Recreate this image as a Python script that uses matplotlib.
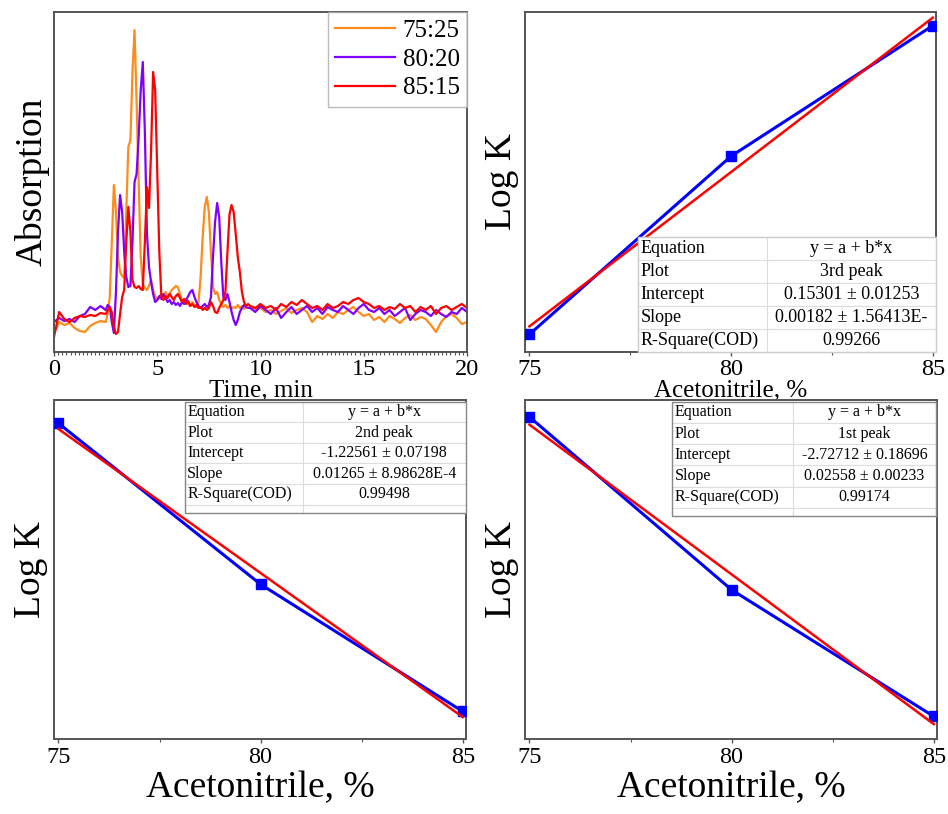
import numpy as np
import matplotlib
matplotlib.use("Agg")
import matplotlib.pyplot as plt
from matplotlib.patches import Rectangle
from matplotlib.ticker import MultipleLocator

plt.rcParams['font.family'] = ['Liberation Serif', 'DejaVu Serif']

# ---------------- Chromatogram data (absorption, arbitrary units) ----------------
time_min = np.round(np.concatenate([
    np.arange(0.0, 2.5, 0.25),
    np.arange(2.5, 9.45, 0.1),
    np.arange(9.5, 20.01, 0.25),
]), 2)

abs_75_25 = [
    19, 30, 27, 29, 24, 21, 20, 26, 29, 31,
    30, 38, 55, 110, 167, 140, 95, 80, 76, 74,
    140, 205, 212, 280, 322, 250, 170, 95, 68, 64,
    62, 66, 72, 62, 56, 52, 54, 58, 55, 60,
    56, 58, 62, 64, 66, 65, 58, 52, 50, 53,
    48, 46, 50, 47, 45, 50, 75, 115, 145, 155,
    140, 100, 65, 58, 60, 52, 48, 45, 47, 44,
    46, 43, 45, 44, 47, 44, 46, 43, 45, 44,
    45, 43, 44, 40, 42, 38, 41, 44, 39, 42,
    44, 40, 30, 36, 33, 38, 34, 40, 38, 42,
    45, 40, 36, 38, 32, 35, 30, 36, 33, 29,
    34, 37, 32, 35, 33, 27, 20, 30, 36, 38,
    34, 28, 30,
]
abs_80_20 = [
    30, 34, 31, 33, 30, 36, 38, 45, 42, 46,
    42, 47, 45, 30, 19, 60, 120, 157, 140, 100,
    75, 65, 66, 110, 170, 178, 215, 262, 290, 220,
    119, 85, 70, 58, 50, 52, 56, 53, 58, 54,
    50, 52, 48, 50, 47, 49, 46, 50, 48, 52,
    56, 60, 62, 55, 50, 46, 44, 46, 48, 45,
    47, 55, 95, 130, 149, 135, 90, 55, 52, 58,
    50, 40, 32, 27, 32, 40, 44, 47, 45, 44,
    44, 40, 46, 42, 38, 44, 34, 40, 45, 38,
    42, 46, 40, 44, 38, 45, 42, 40, 46, 42,
    38, 44, 48, 42, 40, 44, 38, 42, 36, 40,
    44, 32, 38, 42, 40, 36, 42, 38, 35, 40,
    38, 44, 40,
]
abs_85_15 = [
    15, 40, 33, 30, 34, 36, 35, 37, 36, 39,
    38, 42, 45, 40, 25, 18, 20, 38, 55, 62,
    110, 145, 120, 72, 65, 64, 66, 63, 62, 110,
    165, 144, 200, 280, 262, 180, 100, 55, 52, 56,
    54, 58, 55, 52, 56, 58, 54, 50, 53, 48,
    51, 46, 48, 45, 47, 44, 45, 42, 44, 42,
    44, 50, 46, 40, 39, 44, 48, 52, 60, 100,
    138, 147, 140, 118, 95, 80, 60, 50, 46, 48,
    46, 44, 48, 44, 46, 42, 48, 45, 50, 47,
    52, 48, 44, 46, 42, 48, 44, 46, 50, 48,
    52, 54, 50, 48, 44, 46, 42, 45, 43, 48,
    44, 46, 40, 45, 42, 46, 38, 44, 46, 42,
    45, 48, 44,
]
series_labels = ["75:25", "80:20", "85:15"]
series_colors = ["#ff8c1a", "#8000ff", "#ff0000"]

# ---------------- Log K data ----------------
acetonitrile = [75, 80, 85]
logk_3rd = [0.2863, 0.2994, 0.3090]
logk_2nd = [-0.151, -0.227, -0.287]
logk_1st = [-0.565, -0.718, -0.830]

table_3rd = [["Equation", "y = a + b*x"], ["Plot", "3rd peak"],
             ["Intercept", "0.15301 \u00b1 0.01253"],
             ["Slope", "0.00182 \u00b1 1.56413E-"],
             ["R-Square(COD)", "0.99266"]]
table_2nd = [["Equation", "y = a + b*x"], ["Plot", "2nd peak"],
             ["Intercept", "-1.22561 \u00b1 0.07198"],
             ["Slope", "0.01265 \u00b1 8.98628E-4"],
             ["R-Square(COD)", "0.99498"], ["", ""]]
table_1st = [["Equation", "y = a + b*x"], ["Plot", "1st peak"],
             ["Intercept", "-2.72712 \u00b1 0.18696"],
             ["Slope", "0.02558 \u00b1 0.00233"],
             ["R-Square(COD)", "0.99174"], ["", ""]]

W, H = 948, 814
fig = plt.figure(figsize=(W / 100, H / 100), dpi=100)

def px_axes(l, t, r, b):
    return fig.add_axes([l / W, 1 - b / H, (r - l) / W, (b - t) / H])

spine_col = "#555555"

def style(ax, pad=3):
    for s in ax.spines.values():
        s.set_color(spine_col)
        s.set_linewidth(1.4)
    ax.set_yticks([])
    ax.set_facecolor('none')
    ax.tick_params(axis='x', which='major', direction='out', length=3, width=1,
                   color=spine_col, labelsize=17.5, pad=pad)
    ax.tick_params(axis='x', which='minor', direction='out', length=2, width=0.8,
                   color=spine_col)

# ---- top-left chromatogram ----
ax1 = px_axes(54, 12, 467, 352)
for ys, lab, col in zip([abs_75_25, abs_80_20, abs_85_15], series_labels, series_colors):
    ax1.plot(time_min, ys, color=col, lw=1.6, label=lab)
ax1.set_xlim(0, 20)
ax1.set_ylim(0, 340)
style(ax1, pad=2)
ax1.set_xticks([0, 5, 10, 15, 20])
ax1.xaxis.set_minor_locator(MultipleLocator(0.2))
ax1.set_xlabel("Time, min", fontsize=18, labelpad=0)
ax1.set_ylabel("Absorption", fontsize=27, labelpad=3)
leg = ax1.legend(loc='upper right', fontsize=18, frameon=True, fancybox=False,
                 edgecolor="#aaaaaa", borderaxespad=0.0, handlelength=2.4,
                 handletextpad=0.3, labelspacing=0.25, borderpad=0.3)
leg.get_frame().set_linewidth(1.0)

def logk_panel(ax, yvals, ylim, xlabel_size, labelpad, pad):
    ax.plot(acetonitrile, yvals, color="#0000ff", lw=2.2, marker='s', ms=7,
            zorder=3, clip_on=True)
    b, a = np.polyfit(acetonitrile, yvals, 1)
    xs = np.array([acetonitrile[0], acetonitrile[-1]])
    ax.plot(xs, a + b * xs, color="#ff0000", lw=1.8, zorder=4)
    ax.set_xlim(74.89, 85.08)
    ax.set_ylim(*ylim)
    style(ax, pad=pad)
    ax.set_xticks([75, 80, 85])
    ax.xaxis.set_minor_locator(MultipleLocator(2.5))
    ax.set_xlabel("Acetonitrile, %", fontsize=xlabel_size, labelpad=labelpad)
    ax.set_ylabel("Log K", fontsize=27, labelpad=4)

def add_table(ax, rows, bbox, fontsize, col_fracs, row_heights, border_col):
    tbl = ax.table(cellText=rows, bbox=bbox, cellLoc='center', zorder=6)
    tbl.auto_set_font_size(False)
    tbl.set_fontsize(fontsize)
    for (r, c), cell in tbl.get_celld().items():
        cell.set_edgecolor("#dddddd")
        cell.set_linewidth(0.8)
        cell.set_facecolor("white")
        cell.set_width(col_fracs[c])
        cell.set_height(row_heights[r])
        if c == 0:
            cell._loc = 'left'
            cell.get_text().set_horizontalalignment('left')
            cell.PAD = 0.02
    ax.add_patch(Rectangle((bbox[0], bbox[1]), bbox[2], bbox[3], transform=ax.transAxes,
                           fill=False, edgecolor=border_col, lw=1.0, zorder=7,
                           clip_on=False))
    return tbl

# ---- top-right ----
ax2 = px_axes(525, 12, 936, 352)
logk_panel(ax2, logk_3rd, (0.285, 0.310), 18, 0, 2)
add_table(ax2, table_3rd, [0.275, 0.0, 0.725, 0.338], 13, [0.433, 0.567],
          [1, 1, 1, 1, 1], "#cccccc")

# ---- bottom-left ----
ax3 = px_axes(54, 400, 466, 739)
logk_panel(ax3, logk_2nd, (-0.300, -0.140), 27, 2, 3)
add_table(ax3, table_2nd, [0.318, 0.667, 0.682, 0.328], 11.5, [0.419, 0.581],
          [1, 1, 1, 1, 1, 0.4], "#888888")

# ---- bottom-right ----
ax4 = px_axes(525, 400, 937, 739)
logk_panel(ax4, logk_1st, (-0.85, -0.55), 27, 2, 3)
add_table(ax4, table_1st, [0.357, 0.657, 0.641, 0.338], 11.5, [0.458, 0.542],
          [1, 1, 1, 1, 1, 0.4], "#888888")

fig.savefig("out.png", dpi=100, facecolor='white')
